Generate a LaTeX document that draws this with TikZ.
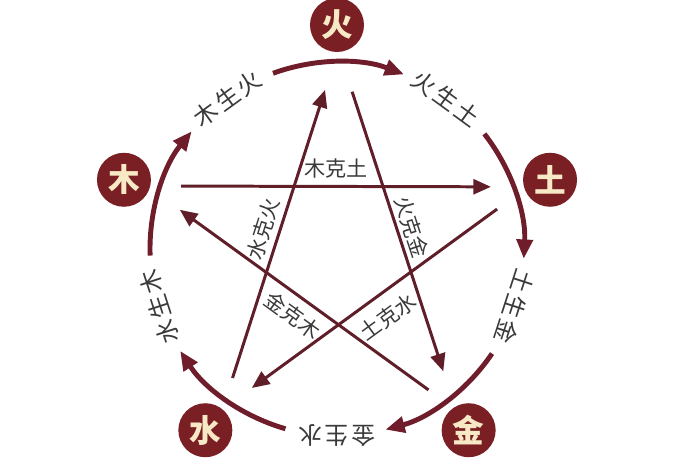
\documentclass[tikz,border=0pt]{standalone}
\usepackage{fontspec}
\newfontfamily\cjk{Noto Sans CJK SC}
\newfontfamily\cjkwide{Noto Sans CJK SC}[LetterSpace=12]
\usepackage[usenames]{xcolor}
\usepackage{tikz}
\usetikzlibrary{arrows.meta}
\definecolor{wxred}{HTML}{7A1F24}
\definecolor{wxarc}{HTML}{6F1D2B}
\definecolor{wxline}{HTML}{5F1E28}
\definecolor{wxcream}{HTML}{F7E9C6}
\definecolor{wxtext}{HTML}{3A3A3A}
\tikzset{my_diagram/.style={x=0.02cm, y=0.02cm}}
\tikzset{my_element/.style={circle, fill=wxred, text=wxcream, minimum size=1.08cm, inner sep=0pt, font=\cjk\bfseries\fontsize{18}{18}\selectfont}}
\tikzset{my_sheng/.style={draw=wxarc, line width=2.8pt, -{Triangle[length=11pt, width=9pt]}}}
\tikzset{my_sheng_label/.style={text=wxtext, inner sep=0pt, font=\cjkwide\fontsize{13.5}{14}\selectfont}}
\tikzset{my_ke/.style={draw=wxline, line width=1.7pt, -{Triangle[length=10pt, width=8.5pt]}}}
\tikzset{my_ke_label/.style={text=wxtext, sloped, inner sep=0pt, font=\cjk\fontsize{12}{12}\selectfont}}

\begin{document}
\begin{tikzpicture}[my_diagram]
    %\draw[help lines] (-337,-208) grid (363,249);
    \useasboundingbox (-337,-208) rectangle (363,249);
    \node[my_element] (huo) at (90:224) {火};
    \node[my_element] (tu) at (18:224) {土};
    \node[my_element] (jin) at (-54:224) {金};
    \node[my_element] (shui) at (-126:224) {水};
    \node[my_element] (mu) at (162:224) {木};

    % sheng cycle
    \coordinate (huo-a) at (110:187);
    \coordinate (tu-a) at (38:187);
    \coordinate (jin-a) at (-34:187);
    \coordinate (shui-a) at (-106:187);
    \coordinate (mu-a) at (182:187);
    \draw[my_sheng] (huo-a) arc[start angle=110, end angle=69, radius=187];
    \draw[my_sheng] (tu-a) arc[start angle=38, end angle=-3, radius=187];
    \draw[my_sheng] (jin-a) arc[start angle=-34, end angle=-75, radius=187];
    \draw[my_sheng] (shui-a) arc[start angle=-106, end angle=-147, radius=187];
    \draw[my_sheng] (mu-a) arc[start angle=182, end angle=141, radius=187];

    \node[my_sheng_label, rotate=36] (mu-huo) at (126:186) {木生火};
    \node[my_sheng_label, rotate=-36] (huo-tu) at (54:186) {火生土};
    \node[my_sheng_label, rotate=-108] (tu-jin) at (-18:187) {土生金};
    \node[my_sheng_label, rotate=180] (jin-shui) at (-90:187) {金生水};
    \node[my_sheng_label, rotate=108] (shui-mu) at (-162:187) {水生木};

    % ke star
    \coordinate (mu-k) at (158:168);
    \coordinate (tu-t) at (22:166);
    \coordinate (huo-k) at (84.5:158);
    \coordinate (jin-t) at (-49:162);
    \coordinate (tu-k) at (14:165);
    \coordinate (shui-t) at (-121.5:163);
    \coordinate (jin-k) at (-57:168);
    \coordinate (mu-t) at (166:162);
    \coordinate (shui-k) at (-129:166);
    \coordinate (huo-t) at (94.3:159.5);

    \path
        (mu-k) edge [my_ke] node [my_ke_label, above=4pt] (mu-tu) {木克土} (tu-t)
        (huo-k) edge [my_ke] node [my_ke_label, above=2pt] (huo-jin) {火克金} (jin-t)
        (tu-k) edge [my_ke] node [my_ke_label, below=6.5pt] (tu-shui) {土克水} (shui-t)
        (jin-k) edge [my_ke] node [my_ke_label, below=4.5pt] (jin-mu) {金克木} (mu-t)
        (shui-k) edge [my_ke] node [my_ke_label, above=3pt] (shui-huo) {水克火} (huo-t)
    ;
\end{tikzpicture}
\end{document}
